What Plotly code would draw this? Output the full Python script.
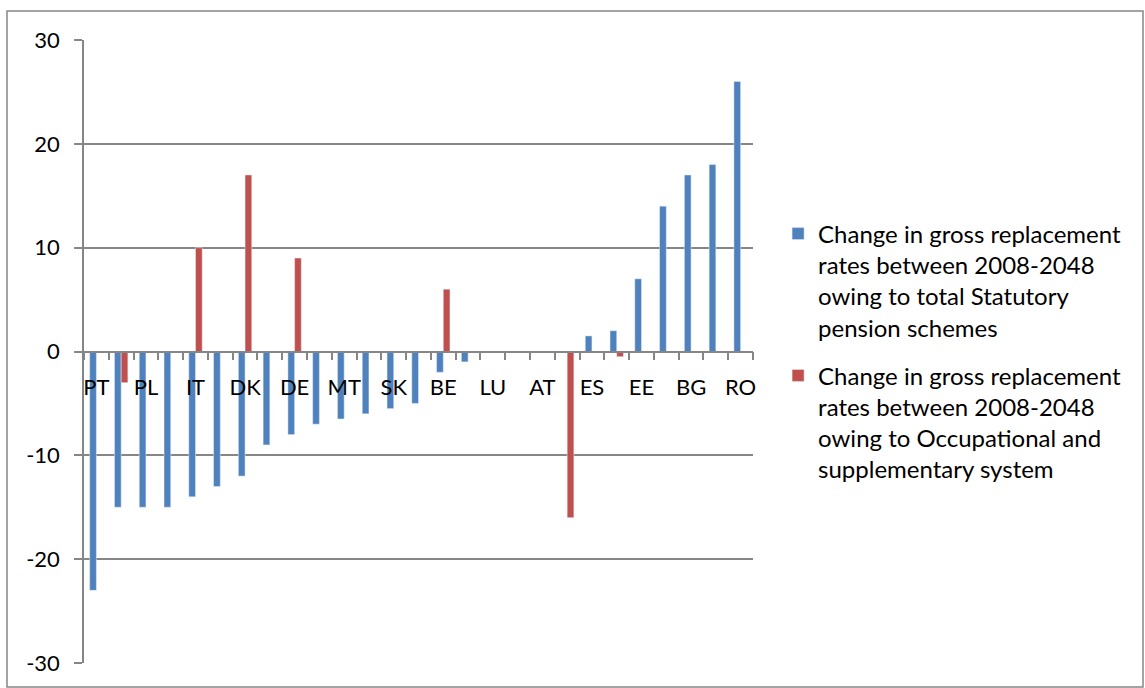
import plotly.graph_objects as go

countries = ["PT", "SE", "PL", "LV", "IT", "FR", "DK", "CY", "DE", "FI", "MT", "LT", "SK", "CZ",
             "BE", "HU", "LU", "SI", "AT", "NL", "ES", "UK", "EE", "IE", "BG", "EL", "RO"]
statutory = [-23, -15, -15, -15, -14, -13, -12, -9, -8, -7, -6.5, -6, -5.5, -5,
             -2, -1, 0, 0, 0, 0, 1.5, 2, 7, 14, 17, 18, 26]
occupational = [None, -3, None, None, 10, None, 17, None, 9, None, None, None, None, None,
                6, None, None, None, None, -16, None, -0.5, None, None, None, None, None]
series_names = [
    "Change in gross replacement<br>rates between 2008-2048<br>owing to total Statutory<br>pension schemes",
    "Change in gross replacement<br>rates between 2008-2048<br>owing to Occupational and<br>supplementary system",
]
y_ticks = [-30, -20, -10, 0, 10, 20, 30]
y_tick_text = ["-30", "-20", "-10", "0", "10", "20", "30"]

pos = list(range(len(countries)))
label_pos = pos[::2]
label_text = countries[::2]

GREY = "#868686"
FONT = "Lato"

fig = go.Figure()
fig.add_trace(go.Bar(x=pos, y=statutory, name=series_names[0], marker_color="#4F81BD",
                     legendgroup="a",
                     customdata=countries, hovertemplate="%{customdata}: %{y}<extra></extra>"))
fig.add_trace(go.Bar(x=pos, y=occupational, name=series_names[1], marker_color="#C0504D",
                     legendgroup="b",
                     customdata=countries, hovertemplate="%{customdata}: %{y}<extra></extra>"))

W, H = 1145, 688
L, R, T, B = 84, 392, 40, 25
pw, ph = W - L - R, H - T - B

fig.update_layout(
    width=W, height=H,
    margin=dict(l=L, r=R, t=T, b=B, pad=0),
    paper_bgcolor="white", plot_bgcolor="white",
    barmode="group", bargap=0.46, bargroupgap=0,
    font=dict(family=FONT, size=22, color="black"),
    showlegend=True,
    legend=dict(x=1.0375, y=0.5, xanchor="left", yanchor="middle",
                font=dict(family=FONT, size=24, color="black"),
                valign="top", traceorder="grouped", tracegroupgap=14,
                bgcolor="rgba(0,0,0,0)"),
    xaxis=dict(range=[-0.5, len(countries) - 0.5], anchor="free", position=0.5,
               showline=True, linecolor=GREY, linewidth=1.5,
               tickmode="array", tickvals=label_pos, ticktext=label_text,
               ticks="", showgrid=False, zeroline=False, ticklabelstandoff=16,
               minor=dict(tick0=-0.5, dtick=1, ticks="outside", ticklen=8,
                          tickcolor=GREY, tickwidth=1.5, showgrid=False)),
    yaxis=dict(range=[-30, 30], tickmode="array", tickvals=y_ticks, ticktext=y_tick_text,
               showgrid=True, gridcolor=GREY, gridwidth=1.5, zeroline=False,
               showline=True, linecolor=GREY, linewidth=1.5,
               ticks="outside", ticklen=8, tickcolor=GREY, tickwidth=1.5,
               ticklabelstandoff=10),
    shapes=[dict(type="rect", xref="paper", yref="paper",
                 x0=(7 - L) / pw, x1=(1143 - L) / pw,
                 y0=(H - B - 687) / ph, y1=(H - B - 11) / ph,
                 line=dict(color=GREY, width=1.5), fillcolor="rgba(0,0,0,0)", layer="above")],
)

fig.write_html("out.html", config={"displayModeBar": False},
               post_script="document.body.style.margin='0';document.body.style.overflow='hidden';")
